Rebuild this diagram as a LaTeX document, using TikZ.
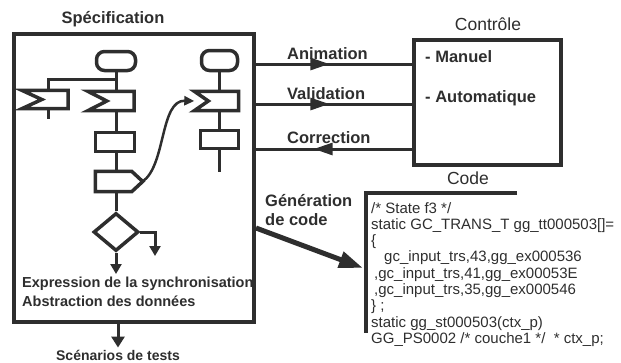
\documentclass[tikz,border=0pt]{standalone}
\usepackage{fontspec}
\setmainfont{Liberation Sans}
\usetikzlibrary{shapes.geometric, arrows.meta, positioning, decorations.markings}
\definecolor{InkGray}{HTML}{2E2E2E}

\begin{document}
\begin{tikzpicture}[
			x=1pt, y=-1pt,
			frame/.style={rectangle, draw=InkGray, line width=4pt, inner sep=0pt},
			symb/.style={rectangle, draw=InkGray, line width=3.5pt, inner sep=0pt},
			slot/.style={rectangle, inner sep=0pt},
			outline/.style={draw=InkGray, line width=3.5pt},
			wire/.style={draw=InkGray, line width=3pt},
			lbl/.style={font=\fontsize{16.5}{19}\selectfont\bfseries, text=InkGray, inner sep=0pt},
			heading/.style={font=\fontsize{17.5}{20}\selectfont, text=InkGray, inner sep=0pt},
			endarrow/.style={-{Triangle[length=10pt, width=11pt]}},
			flow/.style={wire, postaction={decorate}, decoration={markings, mark=at position #1 with {\arrow{Triangle[length=19pt, width=12pt]}}}}
			]
			\useasboundingbox (0,0) rectangle (621,362);

			% Boxes
			\node (spec) [frame, minimum width=240pt, minimum height=288pt] at (134,178) {};
			\node (ctrl) [frame, minimum width=147pt, minimum height=125pt] at (487.5,102.5) {};
			\node (spectitle) [lbl, anchor=base] at (113,23) {Spécification};
			\node (ctrltitle) [heading, anchor=base] at (488,30) {Contrôle};
			\node (manual) [lbl, anchor=base west] at (425,62) {- Manuel};
			\node (automatic) [lbl, anchor=base west] at (425,102) {- Automatique};
			\node (codetitle) [heading, anchor=base] at (468,184) {Code};
			\node (code) [anchor=north west, align=left, inner sep=0pt, text=InkGray, font=\fontsize{15}{16.3}\selectfont] at (371,202)
				{/* State f3 */\\
				static GC\_TRANS\_T gg\_tt000503[]=\\
				\{\\
				\hspace*{13pt}gc\_input\_trs,43,gg\_ex000536\\
				\hspace*{3pt},gc\_input\_trs,41,gg\_ex00053E\\
				\hspace*{3pt},gc\_input\_trs,35,gg\_ex000546\\
				\} ;\\
				static gg\_st000503(ctx\_p)\\
				GG\_PS0002 /* couche1 */\ \ * ctx\_p;};
			\node (sync) [lbl, font=\fontsize{14.5}{19}\selectfont\bfseries, anchor=north west, align=left] at (22,277)
				{Expression de la synchronisation\\Abstraction des données};
			\node (scen) [lbl, font=\fontsize{14}{17}\selectfont\bfseries, anchor=base] at (118,360) {Scénarios de tests};

			% Flow chart symbols
			\node (start1) [symb, rounded corners=8pt, minimum width=39pt, minimum height=19pt] at (116,61) {};
			\node (start2) [symb, rounded corners=8pt, minimum width=36pt, minimum height=20pt] at (219.5,60.5) {};
			\node (recv1) [slot, minimum width=46pt, minimum height=18pt] at (45,99.5) {};
			\node (recv2) [slot, minimum width=46pt, minimum height=19pt] at (111,101) {};
			\node (recv3) [slot, minimum width=44pt, minimum height=19pt] at (216.5,101) {};
			\node (task1) [symb, minimum width=39pt, minimum height=19pt] at (115,142) {};
			\node (task2) [symb, minimum width=38pt, minimum height=18pt] at (219.5,139.5) {};
			\node (send1) [slot, minimum width=47pt, minimum height=20pt] at (119,181.5) {};
			\node (choice) [symb, diamond, minimum width=45pt, minimum height=38pt] at (116,232) {};

			\foreach \n/\d in {recv1/20pt, recv2/19pt, recv3/14pt}
				\draw[outline] (\n.north west) -- (\n.north east) -- (\n.south east) -- (\n.south west) -- ([xshift=\d]\n.west) -- cycle;
			\draw[outline] (send1.north west) -- ([xshift=-11pt]send1.north east) -- (send1.east) -- ([xshift=-11pt]send1.south east) -- (send1.south west) -- cycle;

			\coordinate (fork) at (116,79);
			\coordinate (forkdrop) at (48,79);
			\coordinate (stub1) at (48,119);
			\coordinate (stub2) at (219.5,172);
			\coordinate (exitA) at (116,274);
			\coordinate (exitB) at (155,256);

			% Flow chart lines
			\draw[wire] (start1.south) -- (recv2.north -| start1);
			\draw[wire] (recv2.south -| start1) -- (task1.north -| start1);
			\draw[wire] (task1.south -| start1) -- (send1.north -| start1);
			\draw[wire] (send1.south -| start1) -- (choice.north);
			\draw[wire] (fork) -- (forkdrop) -- (recv1.north -| forkdrop);
			\draw[wire] (recv1.south -| stub1) -- (stub1);
			\draw[wire] (start2.south) -- (recv3.north -| start2);
			\draw[wire] (recv3.south -| start2) -- (task2.north);
			\draw[wire] (task2.south) -- (stub2);
			\draw[wire, endarrow] (choice.south) -- (exitA);
			\draw[wire, endarrow] (choice.east) -| (exitB);
			\draw[wire, line width=2.5pt, -{Triangle[length=10pt, width=9pt]}] (send1.east) .. controls (166,165) and (160,100) .. (recv3.west);

			% Arrows between boxes
			\coordinate (rowA) at (0,64);
			\coordinate (rowV) at (0,104);
			\coordinate (rowC) at (0,149);
			\draw[flow=0.47] (spec.east |- rowA) -- node[lbl, pos=0.19, above=5pt, anchor=base west] (anim) {Animation} (ctrl.west |- rowA);
			\draw[flow=0.47] (spec.east |- rowV) -- node[lbl, pos=0.19, above=5pt, anchor=base west] (valid) {Validation} (ctrl.west |- rowV);
			\draw[flow=0.63] (ctrl.west |- rowC) -- node[lbl, pos=0.81, above=6pt, anchor=base west] (corr) {Correction} (spec.east |- rowC);

			% Code generation
			\coordinate (brtop) at (366,193);
			\coordinate (brend) at (517,193);
			\coordinate (brbot) at (366,333);
			\coordinate (genfrom) at (0,228);
			\coordinate (gento) at (363,268);
			\draw[draw=InkGray, line width=4.5pt] (brend) -- (brtop) -- (brbot);
			\draw[wire, line width=5pt, -{Triangle[length=24pt, width=16pt]}] (spec.east |- genfrom) -- (gento);
			\node (genlbl) [lbl, anchor=north west, align=left] at (265,194) {Génération\\de code};

			% Test scenarios
			\draw[wire, -{Triangle[length=11pt, width=13pt]}, shorten >=2pt] (spec.south -| scen) -- (scen.north);
		\end{tikzpicture}
\end{document}
